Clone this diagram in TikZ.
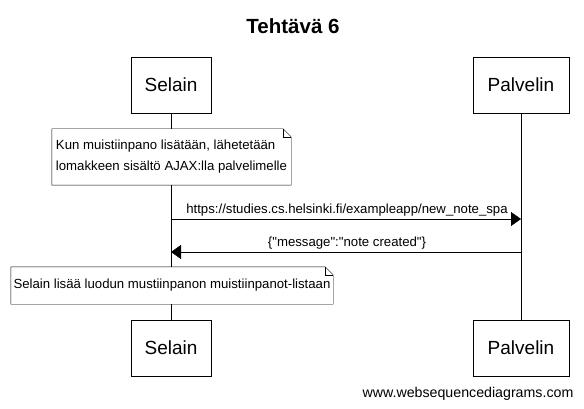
\documentclass[tikz,border=0pt]{standalone}
\usepackage{fontspec}
\setmainfont{Liberation Sans}
\usetikzlibrary{arrows.meta}
\tikzset{%
  actor/.style={%
    draw,%
    minimum height=56pt,%
    inner sep=0pt,%
    font=\fontsize{19}{22}\selectfont},%
  note/.style={%
    fill=white,%
    align=left,%
    inner sep=0pt,%
    minimum height=#1,%
    font=\fontsize{13.2}{21}\selectfont},%
  msg/.style={%
    -{Triangle[length=10pt,width=14pt]}},%
  msglabel/.style={%
    font=\fontsize{13.2}{15}\selectfont,%
    inner sep=0pt}
}
\newcommand{\dogear}[1]{%
  \draw (#1.north west) -- ([xshift=-8pt]#1.north east)
    -- ([yshift=-8pt]#1.north east) -- (#1.south east)
    -- (#1.south west) -- cycle;
  \draw ([xshift=-8pt]#1.north east) -- ([xshift=-8pt,yshift=-8pt]#1.north east)
    -- ([yshift=-8pt]#1.north east);}

\begin{document}
\begin{tikzpicture}[x=1pt,y=-1pt]
  \useasboundingbox (0,0) rectangle (584,409);
  \node [font=\bfseries\fontsize{20.5}{23}\selectfont] (title) at (293,26) {Tehtävä 6};
  % participants
  \node [actor,minimum width=80pt] (selain) at (171,85) {Selain};
  \node [actor,minimum width=96pt] (palvelin) at (521,85) {Palvelin};
  \node [actor,minimum width=80pt] (selainb) at (171,348) {Selain};
  \node [actor,minimum width=96pt] (palvelinb) at (521,348) {Palvelin};
  \draw (selain) -- (selainb);
  \draw (palvelin) -- (palvelinb);
  % note 1
  \node [note=56pt,minimum width=239pt] (n1) at (171.5,157) {%
    Kun muistiinpano lisätään, lähetetään\\
    lomakkeen sisältö AJAX:lla palvelimelle};
  \dogear{n1}
  % messages
  \coordinate (a1) at (selain |- 0,219);
  \coordinate (b1) at (palvelin |- 0,219);
  \draw [msg] (a1) -- (b1);
  \node [msglabel] (l1) at (347,210) {https://studies.cs.helsinki.fi/exampleapp/new\_note\_spa};
  \coordinate (a2) at (palvelin |- 0,252);
  \coordinate (b2) at (selain |- 0,252);
  \draw [msg] (a2) -- (b2);
  \node [msglabel] (l2) at (347,243)
    {\{\textquotedbl message\textquotedbl:\textquotedbl note created\textquotedbl\}};
  % note 2
  \node [note=37pt,minimum width=322pt] (n2) at (172,285.5) {%
    Selain lisää luodun mustiinpanon muistiinpanot-listaan};
  \dogear{n2}
  \node [msglabel,font=\fontsize{14.2}{16}\selectfont] (wsd) at (468,394) {www.websequencediagrams.com};
\end{tikzpicture}
\end{document}
